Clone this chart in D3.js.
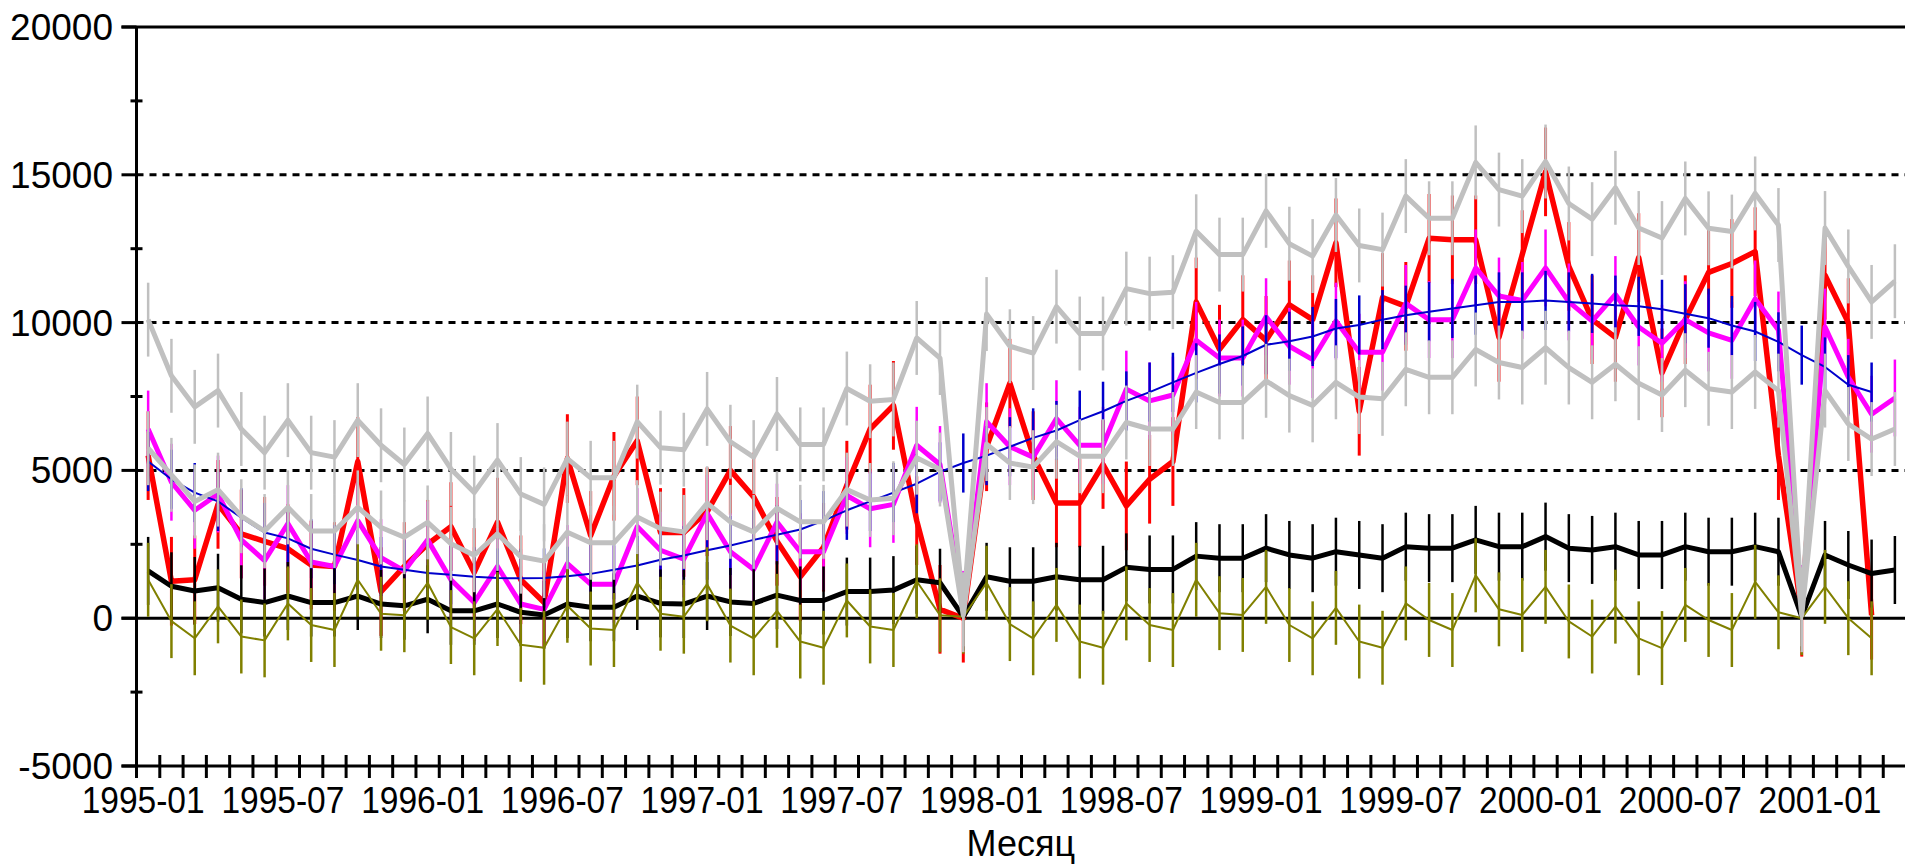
<!DOCTYPE html>
<html>
<head>
<meta charset="utf-8">
<script src="https://cdn.jsdelivr.net/npm/d3@7"></script>
<style>
    html, body { margin: 0; padding: 0; background: #fff; overflow: hidden; }
    svg { display: block; }
    text { font-family: "Liberation Sans", Arial, sans-serif; fill: #000; }
</style>
</head>
<body>
<div class="chart"></div>
<script>
// months shown on the axis (last one only partly visible at the right edge)
const months = [
    '1995-01','1995-02','1995-03','1995-04','1995-05','1995-06','1995-07','1995-08','1995-09','1995-10','1995-11','1995-12',
    '1996-01','1996-02','1996-03','1996-04','1996-05','1996-06','1996-07','1996-08','1996-09','1996-10','1996-11','1996-12',
    '1997-01','1997-02','1997-03','1997-04','1997-05','1997-06','1997-07','1997-08','1997-09','1997-10','1997-11','1997-12',
    '1998-01','1998-02','1998-03','1998-04','1998-05','1998-06','1998-07','1998-08','1998-09','1998-10','1998-11','1998-12',
    '1999-01','1999-02','1999-03','1999-04','1999-05','1999-06','1999-07','1999-08','1999-09','1999-10','1999-11','1999-12',
    '2000-01','2000-02','2000-03','2000-04','2000-05','2000-06','2000-07','2000-08','2000-09','2000-10','2000-11','2000-12',
    '2001-01','2001-02','2001-03','2001-04','2001-05'
];
const tickLabels = ['1995-01','1995-07','1996-01','1996-07','1997-01','1997-07','1998-01',
    '1998-07','1999-01','1999-07','2000-01','2000-07','2001-01'];
const yTicks = [20000, 15000, 10000, 5000, 0, -5000];
const yMinor = [17500, 12500, 7500, 2500, -2500];
const gridValues = [15000, 10000, 5000];

// series
const red = [5500,1250,1300,3850,2850,2600,2350,1800,1750,5300,900,1750,
    2500,3100,1550,3250,1300,530,5400,2800,4800,6000,2900,2900,
    3600,5000,4100,2600,1400,2400,4500,6400,7200,3300,300,0,
    5800,7950,5500,3900,3900,5200,3800,4700,5300,10700,9100,10100,
    9400,10600,10100,12700,7000,10850,10550,12850,12800,12800,9500,12300,
    15100,11900,10100,9500,12200,8300,10100,11700,12000,12400,5500,200,
    11600,10000,100,null];
const magenta = [6400,4600,3650,4200,2650,1950,3200,1900,1750,3300,2050,1600,
    2650,1300,530,1750,480,300,1850,1150,1150,3100,2300,2000,
    3550,2250,1650,3250,2250,2250,4150,3700,3850,5850,5200,300,
    6650,5800,5450,6750,5850,5850,7750,7350,7550,9400,8800,8800,
    10200,9200,8750,10050,9000,9000,10650,10100,10100,11850,10900,10750,
    11850,10700,10050,10950,9850,9300,10100,9650,9400,10800,9750,500,
    9850,8150,6900,7450];
const trend = [5300,4700,4250,3950,3400,2900,2700,2350,2150,1970,1750,1640,
    1530,1470,1400,1360,1350,1360,1420,1500,1640,1780,1980,2120,
    2300,2460,2650,2820,3000,3300,3650,3950,4250,4550,4950,5250,
    5500,5800,6100,6350,6700,7000,7350,7650,7980,8300,8600,8870,
    9250,9370,9530,9800,9920,10100,10250,10370,10480,10590,10700,10700,
    10750,10700,10650,10590,10550,10450,10300,10150,9900,9700,9350,8900,
    8500,7900,7650,null];
const upper = [10100,8200,7150,7700,6400,5600,6700,5600,5450,6700,5850,5200,
    6250,5050,4250,5350,4200,3850,5400,4750,4750,6650,5770,5700,
    7080,5970,5450,6910,5880,5880,7770,7340,7400,9480,8800,300,
    10290,9200,8970,10540,9630,9630,11150,10980,11030,13090,12300,12300,
    13780,12670,12250,13640,12610,12470,14280,13530,13530,15420,14500,14280,
    15450,14030,13500,14560,13200,12860,14200,13190,13080,14370,13300,300,
    13200,11900,10700,11400];
const lower = [5750,4850,3950,4350,3450,2950,3750,2950,2950,3750,3070,2740,
    3240,2520,2130,2850,2080,1930,2910,2550,2550,3420,3030,2920,
    3890,3260,2920,3720,3260,3260,4350,4000,4060,5430,5030,100,
    5890,5250,5110,5970,5480,5480,6620,6400,6400,7650,7300,7300,
    8030,7530,7200,7980,7480,7420,8420,8150,8150,9090,8650,8480,
    9150,8480,7980,8590,7950,7550,8390,7760,7650,8330,7700,100,
    7700,6570,6060,6400];
const level = [1600,1080,920,1030,640,530,750,530,530,750,480,420,
    640,250,250,480,200,110,480,370,370,750,500,480,
    750,550,500,780,600,600,900,900,950,1300,1200,50,
    1400,1250,1250,1400,1300,1300,1720,1650,1650,2100,2030,2030,
    2370,2140,2030,2250,2140,2030,2420,2370,2370,2650,2420,2420,
    2760,2370,2310,2420,2140,2140,2420,2250,2250,2420,2250,50,
    2140,1800,1510,1630];
const seasonal = [1300,-100,-680,400,-620,-750,500,-230,-400,1300,150,100,
    1200,-300,-680,310,-900,-1000,420,-350,-400,1200,150,50,
    1150,-250,-680,250,-790,-1000,600,-280,-400,1250,100,50,
    1200,-200,-680,450,-790,-1000,500,-230,-400,1300,170,110,
    1060,-230,-680,350,-790,-1000,500,-60,-400,1450,300,110,
    1060,-110,-620,390,-680,-1010,450,-60,-400,1230,200,0,
    1060,0,-680,null];
// half length of the vertical bars of each series
const errRed = 1500, errMagenta = 1300, errTrend = 1000, errBand = 1250, errLevel = 1150, errSeasonal = 1250;

(function () {
    const width = 1905, height = 866;
    const left = 136.5, step = 23.29;

    const svg = d3.select('.chart').append('svg').attr('width', width).attr('height', height);

    const xScale = d3.scaleBand().domain(months).range([left, left + step * months.length]);
    const yScale = d3.scaleLinear().domain([-5000, 20000]).range([766, 27]);
    const cx = i => xScale(months[i]) + xScale.bandwidth() / 2;

    // grid
    svg.append('g').selectAll('line').data(gridValues).enter().append('line')
        .attr('x1', left).attr('x2', width)
        .attr('y1', d => yScale(d)).attr('y2', d => yScale(d))
        .attr('stroke', '#000').attr('stroke-width', 3).attr('stroke-dasharray', '7,6');
    svg.append('g').selectAll('line').data([20000, 0, -5000]).enter().append('line')
        .attr('x1', left - 15).attr('x2', width)
        .attr('y1', d => yScale(d)).attr('y2', d => yScale(d))
        .attr('stroke', '#000').attr('stroke-width', 3);

    // y axis
    svg.append('line').attr('x1', left).attr('x2', left)
        .attr('y1', yScale(20000)).attr('y2', yScale(-5000))
        .attr('stroke', '#000').attr('stroke-width', 3);
    svg.append('g').selectAll('line').data(yTicks).enter().append('line')
        .attr('x1', left - 15).attr('x2', left)
        .attr('y1', d => yScale(d)).attr('y2', d => yScale(d))
        .attr('stroke', '#000').attr('stroke-width', 3);
    svg.append('g').selectAll('line').data(yMinor).enter().append('line')
        .attr('x1', left - 6).attr('x2', left + 6)
        .attr('y1', d => yScale(d)).attr('y2', d => yScale(d))
        .attr('stroke', '#000').attr('stroke-width', 3);
    svg.append('g').selectAll('text').data(yTicks).enter().append('text')
        .attr('x', 113).attr('y', d => yScale(d) + 13)
        .attr('text-anchor', 'end').attr('font-size', 37)
        .text(d => d);

    // x axis ticks on month borders
    const edges = months.map(m => xScale(m));
    svg.append('g').selectAll('line').data(edges).enter().append('line')
        .attr('x1', d => d).attr('x2', d => d)
        .attr('y1', yScale(-5000) - 11).attr('y2', yScale(-5000) + 12)
        .attr('stroke', '#000').attr('stroke-width', 3);
    svg.append('g').selectAll('text').data(tickLabels).enter().append('text')
        .attr('x', d => xScale(d) + xScale.bandwidth() / 2 - 5)
        .attr('y', 813)
        .attr('text-anchor', 'middle').attr('font-size', 37)
        .attr('textLength', 123).attr('lengthAdjust', 'spacingAndGlyphs')
        .text(d => d);
    svg.append('text').attr('x', (left + width) / 2).attr('y', 856)
        .attr('text-anchor', 'middle').attr('font-size', 36)
        .text('Месяц');

    function drawSeries(values, err, color, lineWidth, barWidth) {
        const g = svg.append('g');
        const pts = values.map((v, i) => ({ i: i, v: v })).filter(d => d.v !== null);
        g.selectAll('line').data(pts).enter().append('line')
            .attr('x1', d => cx(d.i)).attr('x2', d => cx(d.i))
            .attr('y1', d => yScale(d.v - err)).attr('y2', d => yScale(d.v + err))
            .attr('stroke', color).attr('stroke-width', barWidth);
        const line = d3.line().defined(d => d !== null).x((d, i) => cx(i)).y(d => yScale(d));
        g.append('path').datum(values).attr('d', line)
            .attr('fill', 'none').attr('stroke', color).attr('stroke-width', lineWidth)
            .attr('stroke-linejoin', 'round');
    }

    drawSeries(red, errRed, '#ff0000', 5.5, 3);
    drawSeries(magenta, errMagenta, '#ff00ff', 5, 2.5);
    drawSeries(trend, errTrend, '#0000cc', 2, 2.5);
    drawSeries(level, errLevel, '#000000', 5, 2.5);
    drawSeries(seasonal, errSeasonal, '#808000', 2, 2.5);
    drawSeries(lower, errBand, '#c0c0c0', 5, 2.5);
    drawSeries(upper, errBand, '#c0c0c0', 5, 2.5);
})();
</script>
</body>
</html>
